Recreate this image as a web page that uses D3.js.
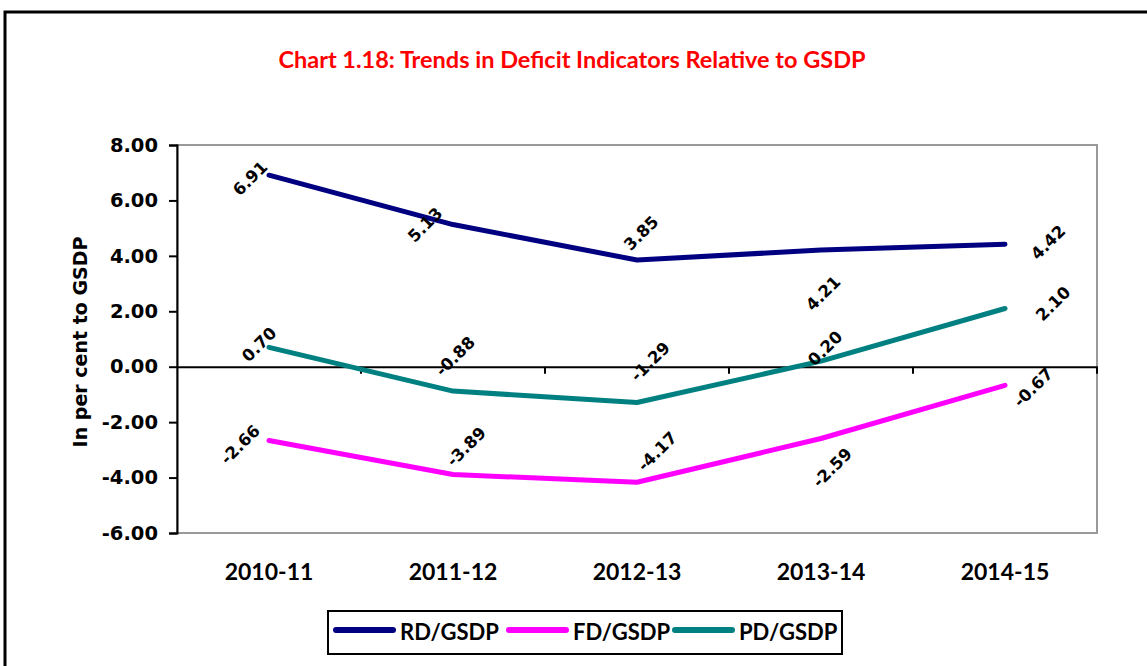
<!DOCTYPE html>
<html>
<head>
<meta charset="utf-8">
<script src="https://cdn.jsdelivr.net/npm/d3@7"></script>
<style>
  body { margin: 0; background: #fff; }
  svg { display: block; }
</style>
</head>
<body>
<svg id="chart" width="1147" height="666"></svg>
<script>
// data
const years = ['2010-11', '2011-12', '2012-13', '2013-14', '2014-15'];
const rdGsdp = [6.91, 5.13, 3.85, 4.21, 4.42];
const fdGsdp = [-2.66, -3.89, -4.17, -2.59, -0.67];
const pdGsdp = [0.70, -0.88, -1.29, 0.20, 2.10];
const seriesNames = ['RD/GSDP', 'FD/GSDP', 'PD/GSDP'];
const yTicks = [-6, -4, -2, 0, 2, 4, 6, 8];

// where excel put each value label, relative to its point (px)
const rdLabelPos = [[-19, 3], [-28, 0], [4, -27], [2, 43], [43, -2]];
const fdLabelPos = [[-29, 4], [13, -28], [20, -31], [11, 29], [28, 2]];
const pdLabelPos = [[-10, -3], [2, -35], [13, -41], [4, -13], [48, -5]];

const colors = ['#000080', '#ff00ff', '#008080'];
const numFont = '"DejaVu Sans", Verdana, sans-serif';
const txtFont = 'Lato, "Open Sans", sans-serif';

const series = [
  { name: seriesNames[0], values: rdGsdp, labels: rdLabelPos, color: colors[0] },
  { name: seriesNames[1], values: fdGsdp, labels: fdLabelPos, color: colors[1] },
  { name: seriesNames[2], values: pdGsdp, labels: pdLabelPos, color: colors[2] }
];

const svg = d3.select('#chart');

// outer frame
svg.append('rect')
  .attr('x', 5).attr('y', 12)
  .attr('width', 1200).attr('height', 700)
  .attr('fill', 'none')
  .attr('stroke', '#000')
  .attr('stroke-width', 3);

// title
svg.append('text')
  .attr('x', 572).attr('y', 68)
  .attr('text-anchor', 'middle')
  .attr('fill', '#ff0000')
  .style('font-family', txtFont)
  .style('font-weight', 'bold')
  .style('font-size', '23.5px')
  .text('Chart 1.18: Trends in Deficit Indicators Relative to GSDP');

const margin = { top: 145, left: 177 };
const width = 920;
const height = 388;

const chart = svg.append('g')
  .attr('transform', `translate(${margin.left}, ${margin.top})`);

const xScale = d3.scaleBand()
  .range([0, width])
  .domain(years)
  .padding(0);

const yScale = d3.scaleLinear()
  .range([height, 0])
  .domain([-6, 8]);

const xMid = (i) => xScale(years[i]) + xScale.bandwidth() / 2;

// plot area border (grey)
chart.append('rect')
  .attr('width', width).attr('height', height)
  .attr('fill', 'none')
  .attr('stroke', '#999')
  .attr('stroke-width', 2);

// y axis
const yAxis = chart.append('g')
  .call(d3.axisLeft(yScale)
    .tickValues(yTicks)
    .tickSize(8)
    .tickPadding(11)
    .tickFormat((d) => d.toFixed(2)));
yAxis.select('.domain').attr('stroke', '#000').attr('stroke-width', 2);
yAxis.selectAll('.tick line').attr('stroke', '#000').attr('stroke-width', 2);
yAxis.selectAll('text')
  .attr('fill', '#000')
  .style('font-family', numFont)
  .style('font-weight', 'bold')
  .style('font-size', '19.5px');

// zero line with category ticks
const xAxis = chart.append('g')
  .attr('transform', `translate(0, ${yScale(0)})`)
  .call(d3.axisBottom(xScale).tickSize(0).tickFormat(''));
xAxis.select('.domain').attr('stroke', '#000').attr('stroke-width', 2);
xAxis.selectAll('.tick').remove();

chart.append('g')
  .selectAll('line')
  .data(years)
  .enter()
  .append('line')
  .attr('x1', (d) => xScale(d) + xScale.bandwidth())
  .attr('x2', (d) => xScale(d) + xScale.bandwidth())
  .attr('y1', yScale(0))
  .attr('y2', yScale(0) + 7)
  .attr('stroke', '#000')
  .attr('stroke-width', 2);

// category labels
chart.append('g')
  .selectAll('text')
  .data(years)
  .enter()
  .append('text')
  .attr('x', (d, i) => xMid(i))
  .attr('y', 435)
  .attr('text-anchor', 'middle')
  .style('font-family', txtFont)
  .style('font-weight', 'bold')
  .style('font-size', '23px')
  .text((d) => d);

// y axis title
svg.append('text')
  .attr('transform', 'translate(87, 342) rotate(-90)')
  .attr('text-anchor', 'middle')
  .style('font-family', numFont)
  .style('font-weight', 'bold')
  .style('font-size', '19px')
  .text('In per cent to GSDP');

// lines
const line = d3.line()
  .x((d, i) => xMid(i))
  .y((d) => yScale(d));

chart.selectAll('.series')
  .data(series)
  .enter()
  .append('path')
  .attr('class', 'series')
  .attr('d', (s) => line(s.values))
  .attr('fill', 'none')
  .attr('stroke', (s) => s.color)
  .attr('stroke-width', 5)
  .attr('stroke-linecap', 'round')
  .attr('stroke-linejoin', 'round');

// value labels, rotated like excel
series.forEach((s) => {
  chart.append('g')
    .selectAll('text')
    .data(s.values)
    .enter()
    .append('text')
    .attr('transform', (d, i) => {
      const lx = xMid(i) + s.labels[i][0];
      const ly = yScale(d) + s.labels[i][1];
      return `translate(${lx}, ${ly}) rotate(-45)`;
    })
    .attr('text-anchor', 'middle')
    .attr('dy', '0.36em')
    .style('font-family', numFont)
    .style('font-weight', 'bold')
    .style('font-size', '16.5px')
    .text((d) => d.toFixed(2));
});

// legend
const legend = svg.append('g');
legend.append('rect')
  .attr('x', 328).attr('y', 611)
  .attr('width', 514).attr('height', 43)
  .attr('fill', '#fff')
  .attr('stroke', '#000')
  .attr('stroke-width', 2);

const legendX = [336, 509, 675];
const items = legend.selectAll('.item')
  .data(series)
  .enter()
  .append('g')
  .attr('transform', (s, i) => `translate(${legendX[i]}, 630)`);

items.append('line')
  .attr('x1', 0).attr('x2', 57)
  .attr('stroke', (s) => s.color)
  .attr('stroke-width', 6)
  .attr('stroke-linecap', 'round');

items.append('text')
  .attr('x', 64)
  .attr('y', 10)
  .style('font-family', txtFont)
  .style('font-weight', 'bold')
  .style('font-size', '22px')
  .text((s) => s.name);
</script>
</body>
</html>
